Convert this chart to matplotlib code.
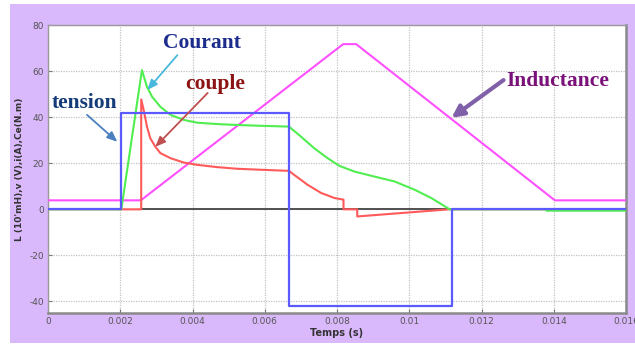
import numpy as np
import matplotlib
matplotlib.use("Agg")
import matplotlib.pyplot as plt
from matplotlib.patches import Rectangle

plt.rcParams["axes.unicode_minus"] = False

# ---- data ----
t_tension = [0.0, 0.00203, 0.00203, 0.00667, 0.00667, 0.01117, 0.01117, 0.016]
v_tension = [0, 0, 42, 42, -42, -42, 0, 0]

t_courant = [0.0, 0.00203, 0.0026, 0.00274, 0.00288, 0.00311, 0.00339, 0.00376, 0.00413, 0.00469,
             0.00524, 0.0060, 0.00667, 0.0070, 0.00737, 0.00774, 0.00806, 0.00848, 0.00904, 0.00959,
             0.01015, 0.01061, 0.01112, 0.0138, 0.0138, 0.016]
i_courant = [0, 0, 60.4, 53.2, 48.9, 44.5, 41.0, 38.8, 37.6, 37.0,
             36.6, 36.2, 35.9, 31.6, 26.5, 22.2, 18.9, 16.4, 14.2, 12.1,
             8.5, 4.9, 0, 0, -0.6, -0.6]

t_couple = [0.0, 0.00258, 0.00258, 0.00265, 0.00274, 0.00283, 0.00297, 0.00311, 0.00339, 0.00376,
            0.00413, 0.00469, 0.00524, 0.0060, 0.00667, 0.00681, 0.00719, 0.00756, 0.00793, 0.00818,
            0.00818, 0.00856, 0.00856, 0.0111, 0.016]
c_couple = [0, 0, 47.7, 43.0, 35.9, 30.9, 27.2, 24.4, 22.2, 20.3,
            19.3, 18.3, 17.6, 17.1, 16.7, 15.0, 10.6, 7.1, 4.9, 4.2,
            0, 0, -3.1, 0, 0]

t_induct = [0.0, 0.00257, 0.00817, 0.00853, 0.01403, 0.016]
l_induct = [3.9, 3.9, 71.7, 71.7, 3.9, 3.9]

t_zero = [0.0026, 0.016]
v_zero = [0, 0]

x_ticks = [0, 0.002, 0.004, 0.006, 0.008, 0.010, 0.012, 0.014, 0.016]
x_tick_labels = ["0", "0.002", "0.004", "0.006", "0.008", "0.01", "0.012", "0.014", "0.016"]
y_ticks = [-40, -20, 0, 20, 40, 60, 80]

W, H = 635, 345
fig = plt.figure(figsize=(W / 100, H / 100), dpi=100, facecolor="white")
bg = Rectangle((10 / W, 2 / H), 1 - 10 / W, 1 - 6 / H, transform=fig.transFigure,
               facecolor="#dab8fc", edgecolor="none", zorder=-10)
fig.patches.append(bg)

ax = fig.add_axes([48 / W, 1 - 313 / H, (626 - 48) / W, (313 - 25) / H])
ax.set_zorder(1)
ax.set_facecolor("white")
ax.set_xlim(0, 0.016)
ax.set_ylim(-45, 80)

ax.grid(True, linestyle=(0, (1, 1)), color="#c2c2c2", linewidth=0.9)
ax.set_axisbelow(True)

ax.plot(t_zero, v_zero, color="#505050", lw=1.4, zorder=2)
ax.plot(t_induct, l_induct, color="#ff50ff", lw=1.5, zorder=3)
ax.plot(t_couple, c_couple, color="#ff5a5a", lw=1.5, zorder=4)
ax.plot(t_courant, i_courant, color="#50ee50", lw=1.5, zorder=5)
ax.plot(t_tension, v_tension, color="#5a5aff", lw=1.6, zorder=6)

ax.set_xticks(x_ticks)
ax.set_xticklabels(x_tick_labels)
ax.set_yticks(y_ticks)
ax.tick_params(direction="in", length=3, labelsize=6.5, labelcolor="#555555", color="#777777", pad=3)

for s in ["left", "top"]:
    ax.spines[s].set_color("#9a9a9a")
    ax.spines[s].set_linewidth(1.0)
for s in ["right", "bottom"]:
    ax.spines[s].set_color("#8a8a8a")
    ax.spines[s].set_linewidth(1.8)

ax.set_xlabel("Temps (s)", fontsize=7, color="#333333", fontweight="bold", labelpad=1)
ax.set_ylabel("L (10'mH),v (V),i(A),Ce(N.m)", fontsize=6.5, color="#333333", fontweight="bold", labelpad=4)

serif = "Liberation Serif"
ax.text(0.00319, 70, "Courant", fontsize=15.5, fontweight="bold", family=serif, color="#1c2c8c",
        ha="left", va="baseline", zorder=10)
ax.text(0.00381, 52.2, "couple", fontsize=15.5, fontweight="bold", family=serif, color="#8c1414",
        ha="left", va="baseline", zorder=10)
ax.text(0.00011, 44, "tension", fontsize=15.5, fontweight="bold", family=serif, color="#153c78",
        ha="left", va="baseline", zorder=10)
ax.text(0.01269, 53.5, "Inductance", fontsize=15.5, fontweight="bold", family=serif, color="#7a107a",
        ha="left", va="baseline", zorder=10)

def arrow(tail, head, color, lw, hw, hl):
    ax.annotate("", xy=head, xytext=tail,
                arrowprops=dict(arrowstyle=f"-|>,head_width={hw},head_length={hl}", color=color, lw=lw,
                                shrinkA=0, shrinkB=0), zorder=9)

arrow((0.00358, 66.9), (0.00275, 51.8), "#48b8dc", 1.3, 0.25, 0.6)
arrow((0.00442, 50.5), (0.00297, 27.1), "#c05050", 1.3, 0.25, 0.6)
arrow((0.00108, 41.0), (0.00192, 29.3), "#4a80c0", 1.3, 0.25, 0.6)
arrow((0.01261, 56.1), (0.01117, 39.7), "#8060a8", 3.0, 0.35, 0.7)

fig.savefig("out.png", dpi=100, facecolor="white")
